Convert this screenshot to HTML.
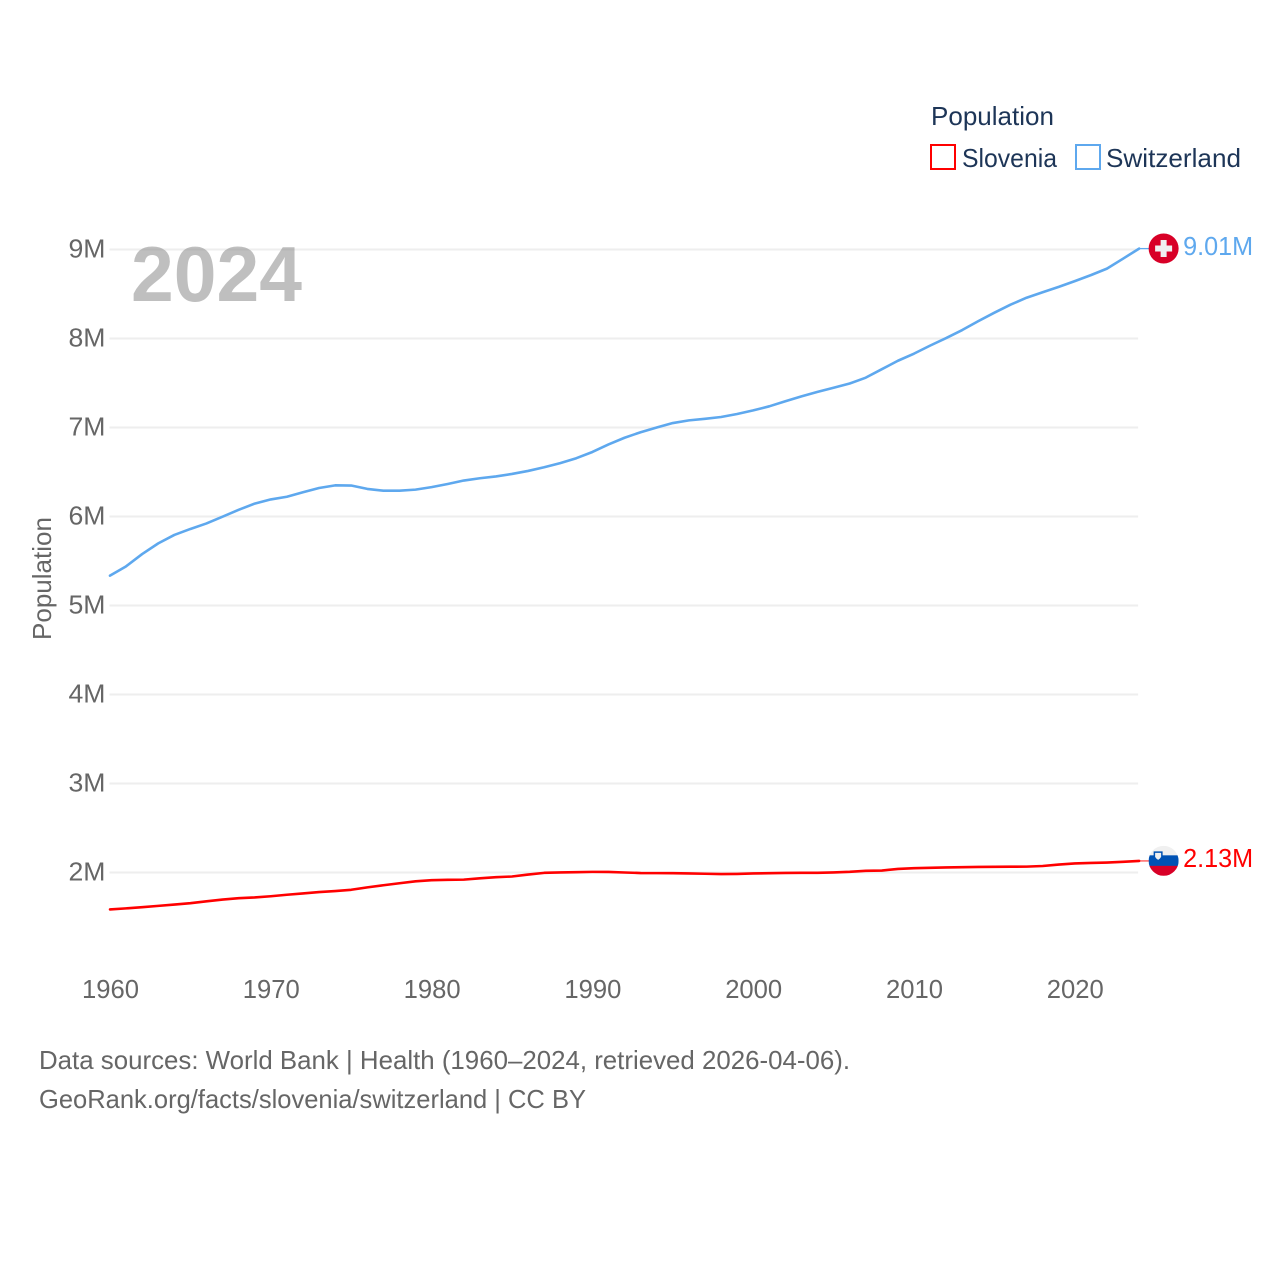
<!DOCTYPE html>
<html lang="en">
<head>
<meta charset="utf-8">
<title>Population: Slovenia and Switzerland</title>
<style>
html,body{margin:0;padding:0;background:#fff;}
svg{display:block;font-family:"Liberation Sans",sans-serif;}
</style>
</head>
<body>
<svg id="chart" width="1280" height="1280" viewBox="0 0 1280 1280" xmlns="http://www.w3.org/2000/svg">
  <rect width="1280" height="1280" fill="#ffffff"/>
  <g id="grid"></g>
  <g id="yticks"></g>
  <g id="xticks"></g>
  <text transform="translate(51,640) rotate(-90)" font-size="26" fill="#666666" textLength="123" lengthAdjust="spacingAndGlyphs">Population</text>
  <text x="131" y="301" font-size="78" font-weight="700" fill="#7f7f7f" fill-opacity="0.5" textLength="171" lengthAdjust="spacingAndGlyphs">2024</text>

  <path id="line-switzerland" fill="none" stroke="#5ea8ee" stroke-width="2.6" stroke-linejoin="round" stroke-linecap="round"/>
  <path id="line-slovenia" fill="none" stroke="#ff0000" stroke-width="2.6" stroke-linejoin="round" stroke-linecap="round"/>
  <path id="tail-switzerland" fill="none" stroke="#5ea8ee" stroke-width="1.3"/>
  <path id="tail-slovenia" fill="none" stroke="#ff0000" stroke-width="1.3" stroke-opacity="0.7"/>

  <g id="flag-ch">
    <circle cx="0" cy="0" r="15" fill="#d80027"/>
    <rect x="-8.5" y="-3" width="17" height="6" fill="#f0f0f0"/>
    <rect x="-3" y="-8.5" width="6" height="17" fill="#f0f0f0"/>
  </g>
  <g id="flag-si">
    <clipPath id="si-clip"><circle cx="0" cy="0" r="15"/></clipPath>
    <g clip-path="url(#si-clip)">
      <rect x="-15" y="-15" width="30" height="10" fill="#f0f0f0"/>
      <rect x="-15" y="-5.5" width="30" height="11" fill="#0052b4"/>
      <rect x="-15" y="5" width="30" height="10" fill="#d80027"/>
      <path d="M-10,-9.5 L-1,-9.5 L-1,-4 Q-3,-0.5 -5.5,0.5 Q-8,-0.5 -10,-4 Z" fill="#0052b4"/>
      <path d="M-8.5,-8 L-2.5,-8 L-2.5,-4 Q-3.5,-2 -5.5,-1 Q-7.5,-2 -8.5,-4 Z" fill="#f0f0f0"/>
    </g>
  </g>
  <text id="value-switzerland" font-size="26" fill="#5ea8ee" textLength="70" lengthAdjust="spacingAndGlyphs"></text>
  <text id="value-slovenia" font-size="26" fill="#ff0000" textLength="70" lengthAdjust="spacingAndGlyphs"></text>

  <g>
    <text x="931" y="125" font-size="26" fill="#1d3557" textLength="123" lengthAdjust="spacingAndGlyphs">Population</text>
    <rect x="931" y="145" width="24" height="24" fill="none" stroke="#ff0000" stroke-width="2"/>
    <text x="962" y="167" font-size="26" fill="#1d3557" textLength="95" lengthAdjust="spacingAndGlyphs">Slovenia</text>
    <rect x="1076" y="145" width="24" height="24" fill="none" stroke="#5ea8ee" stroke-width="2"/>
    <text x="1106" y="167" font-size="26" fill="#1d3557" textLength="135" lengthAdjust="spacingAndGlyphs">Switzerland</text>
  </g>

  <g>
    <text x="39" y="1069" font-size="26" fill="#666666" textLength="811" lengthAdjust="spacingAndGlyphs">Data sources: World Bank | Health (1960–2024, retrieved 2026-04-06).</text>
    <text x="39" y="1108" font-size="26" fill="#666666" textLength="547" lengthAdjust="spacingAndGlyphs">GeoRank.org/facts/slovenia/switzerland | CC BY</text>
  </g>
</svg>
<script>
const startYear = 1960;
const switzerlandValues = [5.335,5.44,5.578,5.698,5.793,5.86,5.922,5.998,6.075,6.145,6.192,6.222,6.272,6.32,6.35,6.348,6.31,6.29,6.29,6.302,6.33,6.365,6.404,6.43,6.45,6.478,6.512,6.553,6.60,6.655,6.725,6.81,6.885,6.947,7.0,7.05,7.08,7.098,7.118,7.152,7.192,7.238,7.295,7.35,7.40,7.447,7.494,7.56,7.655,7.75,7.83,7.92,8.005,8.095,8.195,8.29,8.38,8.458,8.52,8.58,8.645,8.712,8.785,8.897,9.01];
const sloveniaValues = [1.585,1.597,1.610,1.625,1.640,1.655,1.676,1.696,1.711,1.720,1.733,1.750,1.765,1.780,1.791,1.806,1.833,1.857,1.879,1.901,1.914,1.918,1.920,1.935,1.947,1.955,1.977,1.996,2.001,2.004,2.007,2.006,2.000,1.994,1.993,1.992,1.990,1.986,1.982,1.984,1.990,1.992,1.995,1.996,1.997,2.001,2.008,2.019,2.022,2.040,2.049,2.053,2.057,2.060,2.062,2.064,2.065,2.066,2.073,2.089,2.102,2.108,2.112,2.120,2.130];
const yTickValues = [2,3,4,5,6,7,8,9];
const yTickLabels = ["2M","3M","4M","5M","6M","7M","8M","9M"];
const xTickValues = [1960,1970,1980,1990,2000,2010,2020];
const valueLabels = ["9.01M","2.13M"];

const SVG_NS = "http://www.w3.org/2000/svg";
function xScale(year){ return 110 + (year - 1960) * 16.08; }
function yScale(value){ return 872.5 - (value - 2) * 89; }

const gridGroup = document.getElementById("grid");
const yTickGroup = document.getElementById("yticks");
const xTickGroup = document.getElementById("xticks");

yTickValues.forEach(function(v, i){
  const line = document.createElementNS(SVG_NS, "line");
  
  
  line.setAttribute("x1", xScale(1960) - 0.5);
  line.setAttribute("x2", xScale(2024) - 1);
  line.setAttribute("y1", yScale(v));
  line.setAttribute("y2", yScale(v));
  line.setAttribute("stroke", "#eeeeee");
  line.setAttribute("stroke-width", "2");
  gridGroup.appendChild(line);

  const label = document.createElementNS(SVG_NS, "text");
  
  
  label.setAttribute("x", 68.5);
  label.setAttribute("y", yScale(v) + 8);
  label.setAttribute("font-size", "26");
  label.setAttribute("fill", "#666666");
  label.setAttribute("textLength", "37");
  label.setAttribute("lengthAdjust", "spacingAndGlyphs");
  label.textContent = yTickLabels[i];
  yTickGroup.appendChild(label);
});

xTickValues.forEach(function(year){
  const label = document.createElementNS(SVG_NS, "text");
  
  
  label.setAttribute("x", xScale(year) - 28);
  label.setAttribute("y", 998);
  label.setAttribute("font-size", "26");
  label.setAttribute("fill", "#666666");
  label.setAttribute("textLength", "57");
  label.setAttribute("lengthAdjust", "spacingAndGlyphs");
  label.textContent = String(year);
  xTickGroup.appendChild(label);
});

function linePath(values){
  return values.map(function(v, i){
    return (i === 0 ? "M" : "L") + xScale(startYear + i).toFixed(2) + "," + yScale(v).toFixed(2);
  }).join(" ");
}

function placeEnd(values, lineId, tailId, flagId, valueId, text){
  const lastValue = values[values.length - 1];
  const lastYear = startYear + values.length - 1;
  const endX = xScale(lastYear);
  const endY = yScale(lastValue);
  document.getElementById(lineId).setAttribute("d", linePath(values));
  document.getElementById(tailId).setAttribute("d", "M" + endX + "," + endY + " L" + (endX + 10) + "," + endY);
  document.getElementById(flagId).setAttribute("transform", "translate(" + (endX + 24.5) + "," + (endY - 0.1) + ")");
  const valueText = document.getElementById(valueId);
  valueText.setAttribute("x", endX + 44);
  valueText.setAttribute("y", endY + 6.2);
  valueText.textContent = text;
}

placeEnd(switzerlandValues, "line-switzerland", "tail-switzerland", "flag-ch", "value-switzerland", valueLabels[0]);
placeEnd(sloveniaValues, "line-slovenia", "tail-slovenia", "flag-si", "value-slovenia", valueLabels[1]);
</script>
</body>
</html>
